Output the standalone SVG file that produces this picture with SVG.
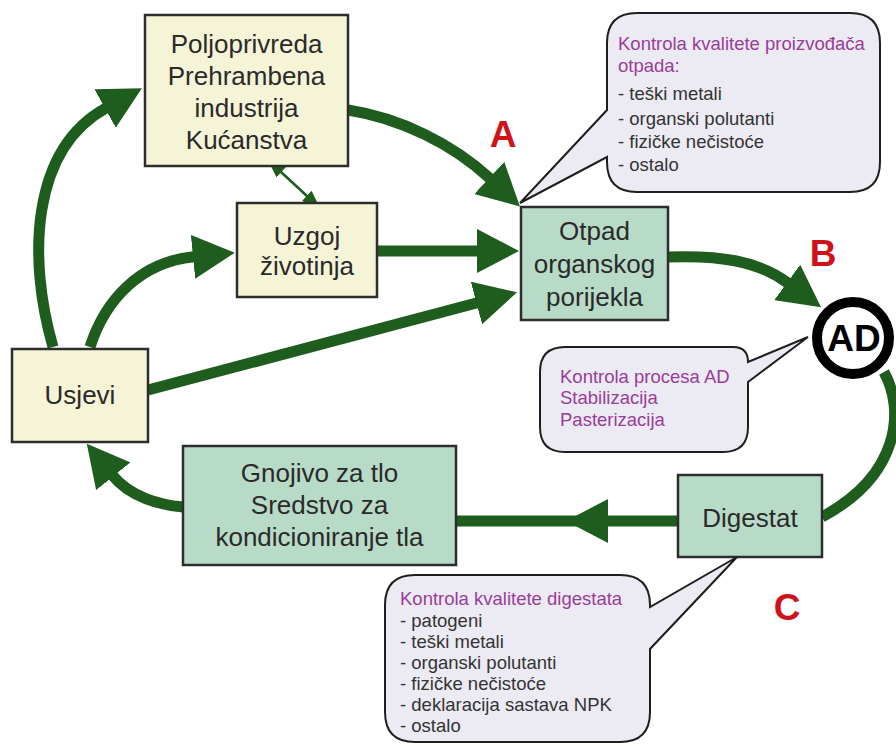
<svg xmlns="http://www.w3.org/2000/svg" width="896" height="747" viewBox="0 0 896 747">
<style>
text{font-family:"Liberation Sans",Arial,sans-serif;}
.box{stroke:#2d2d2d;stroke-width:2.5;}
.y{fill:#f6f4d6;}
.g{fill:#b8dbc8;}
.nt{font-size:26px;fill:#2a2a2a;text-anchor:middle;}
.co{fill:#ecebf3;stroke:#1e1e1e;stroke-width:2;}
.ct{font-size:18.5px;fill:#333;}
.p{fill:#9a3c9a;}
.lt{font-size:37px;font-weight:bold;fill:#d0121b;text-anchor:middle;}
.arr{fill:none;stroke:#1e5d1e;stroke-width:11;}
</style>
<defs>
<marker id="ah" markerUnits="userSpaceOnUse" markerWidth="42" markerHeight="44" viewBox="0 -22 42 44" refX="1" refY="0" orient="auto"><path d="M0,-22 L42,0 L0,22 Z" fill="#1e5d1e"/></marker>
<marker id="sm" markerUnits="userSpaceOnUse" markerWidth="18" markerHeight="14" viewBox="0 -7 18 14" refX="18" refY="0" orient="auto-start-reverse"><path d="M0,-7 L18,0 L0,7 Z" fill="#1e5d1e"/></marker>
</defs>
<rect width="896" height="747" fill="#fff"/>
<g id="connectors">
<path class="arr" d="M53,347 C28,260 30,150 106,108" marker-end="url(#ah)"/>
<path class="arr" d="M90,347 C105,300 140,262 194,256.7" marker-end="url(#ah)"/>
<path class="arr" d="M148,390 L477.4,302.8" marker-end="url(#ah)"/>
<path class="arr" d="M377,251 L478,251" marker-end="url(#ah)"/>
<path class="arr" d="M348,110 C400,118 453,144 490,178.6" marker-end="url(#ah)"/>
<path class="arr" d="M668,257 C720,255 758,261 788,283" marker-end="url(#ah)"/>
<path class="arr" d="M884,372 C905,410 900,475 822,517"/>
<path class="arr" d="M678,521 L607,521 L456,521" marker-mid="url(#ah)"/>
<path class="arr" d="M183,507 C160,505 130,497 112.6,475.5" marker-end="url(#ah)"/>
<path d="M268,160 L320,208" stroke="#1e5d1e" stroke-width="2.5" fill="none" marker-start="url(#sm)" marker-end="url(#sm)"/>
</g>
<g id="poljoprivreda">
<rect class="box y" x="145" y="15" width="203" height="151"/>
<text class="nt" x="246.5" y="53">Poljoprivreda</text>
<text class="nt" x="246.5" y="85">Prehrambena</text>
<text class="nt" x="246.5" y="117">industrija</text>
<text class="nt" x="246.5" y="149">Kućanstva</text>
</g>
<g id="uzgoj">
<rect class="box y" x="237" y="203" width="140" height="94"/>
<text class="nt" x="307" y="245">Uzgoj</text>
<text class="nt" x="307" y="275">životinja</text>
</g>
<g id="usjevi">
<rect class="box y" x="12" y="349" width="136" height="93"/>
<text class="nt" x="80" y="404">Usjevi</text>
</g>
<g id="otpad">
<rect class="box g" x="521" y="207" width="147" height="113"/>
<text class="nt" x="594.5" y="240">Otpad</text>
<text class="nt" x="594.5" y="273">organskog</text>
<text class="nt" x="594.5" y="306">porijekla</text>
</g>
<g id="ad">
<circle cx="853" cy="338" r="36" fill="#fff" stroke="#000" stroke-width="10"/>
<text x="854" y="351" font-size="37" font-weight="bold" text-anchor="middle" fill="#000">AD</text>
</g>
<g id="digestat">
<rect class="box g" x="678" y="475" width="144" height="82"/>
<text class="nt" x="750" y="527">Digestat</text>
</g>
<g id="gnojivo">
<rect class="box g" x="183" y="446" width="273" height="119"/>
<text class="nt" x="319.5" y="482">Gnojivo za tlo</text>
<text class="nt" x="319.5" y="514">Sredstvo za</text>
<text class="nt" x="319.5" y="546">kondicioniranje tla</text>
</g>
<g id="callout-otpad">
<path class="co" d="M637,13 H850 Q880,13 880,43 V162 Q880,192 850,192 H637 Q607,192 607,162 V157 L520,203 L607,110 V43 Q607,13 637,13 Z"/>
<text class="ct p" x="618" y="50">Kontrola kvalitete proizvođača</text>
<text class="ct p" x="618" y="72">otpada:</text>
<text class="ct" x="618" y="100">- teški metali</text>
<text class="ct" x="618" y="125">- organski polutanti</text>
<text class="ct" x="618" y="148">- fizičke nečistoće</text>
<text class="ct" x="618" y="171">- ostalo</text>
</g>
<g id="callout-ad">
<path class="co" d="M565,347 H733 Q748,347 748,362 L808,337 L748,382 V427 Q748,452 723,452 H565 Q540,452 540,427 V372 Q540,347 565,347 Z"/>
<text class="ct p" x="560" y="383">Kontrola procesa AD</text>
<text class="ct p" x="560" y="404">Stabilizacija</text>
<text class="ct p" x="560" y="426">Pasterizacija</text>
</g>
<g id="callout-digestat">
<path class="co" d="M415,575 H620 Q650,575 650,605 V607 L737,557 L650,649 V712 Q650,742 620,742 H415 Q385,742 385,712 V605 Q385,575 415,575 Z"/>
<text class="ct p" x="400" y="605">Kontrola kvalitete digestata</text>
<text class="ct" x="400" y="627">- patogeni</text>
<text class="ct" x="400" y="648">- teški metali</text>
<text class="ct" x="400" y="669">- organski polutanti</text>
<text class="ct" x="400" y="690">- fizičke nečistoće</text>
<text class="ct" x="400" y="711">- deklaracija sastava NPK</text>
<text class="ct" x="400" y="732">- ostalo</text>
</g>
<g id="labels">
<text class="lt" x="503" y="147">A</text>
<text class="lt" x="823" y="266">B</text>
<text class="lt" x="787" y="620">C</text>
</g>
</svg>
